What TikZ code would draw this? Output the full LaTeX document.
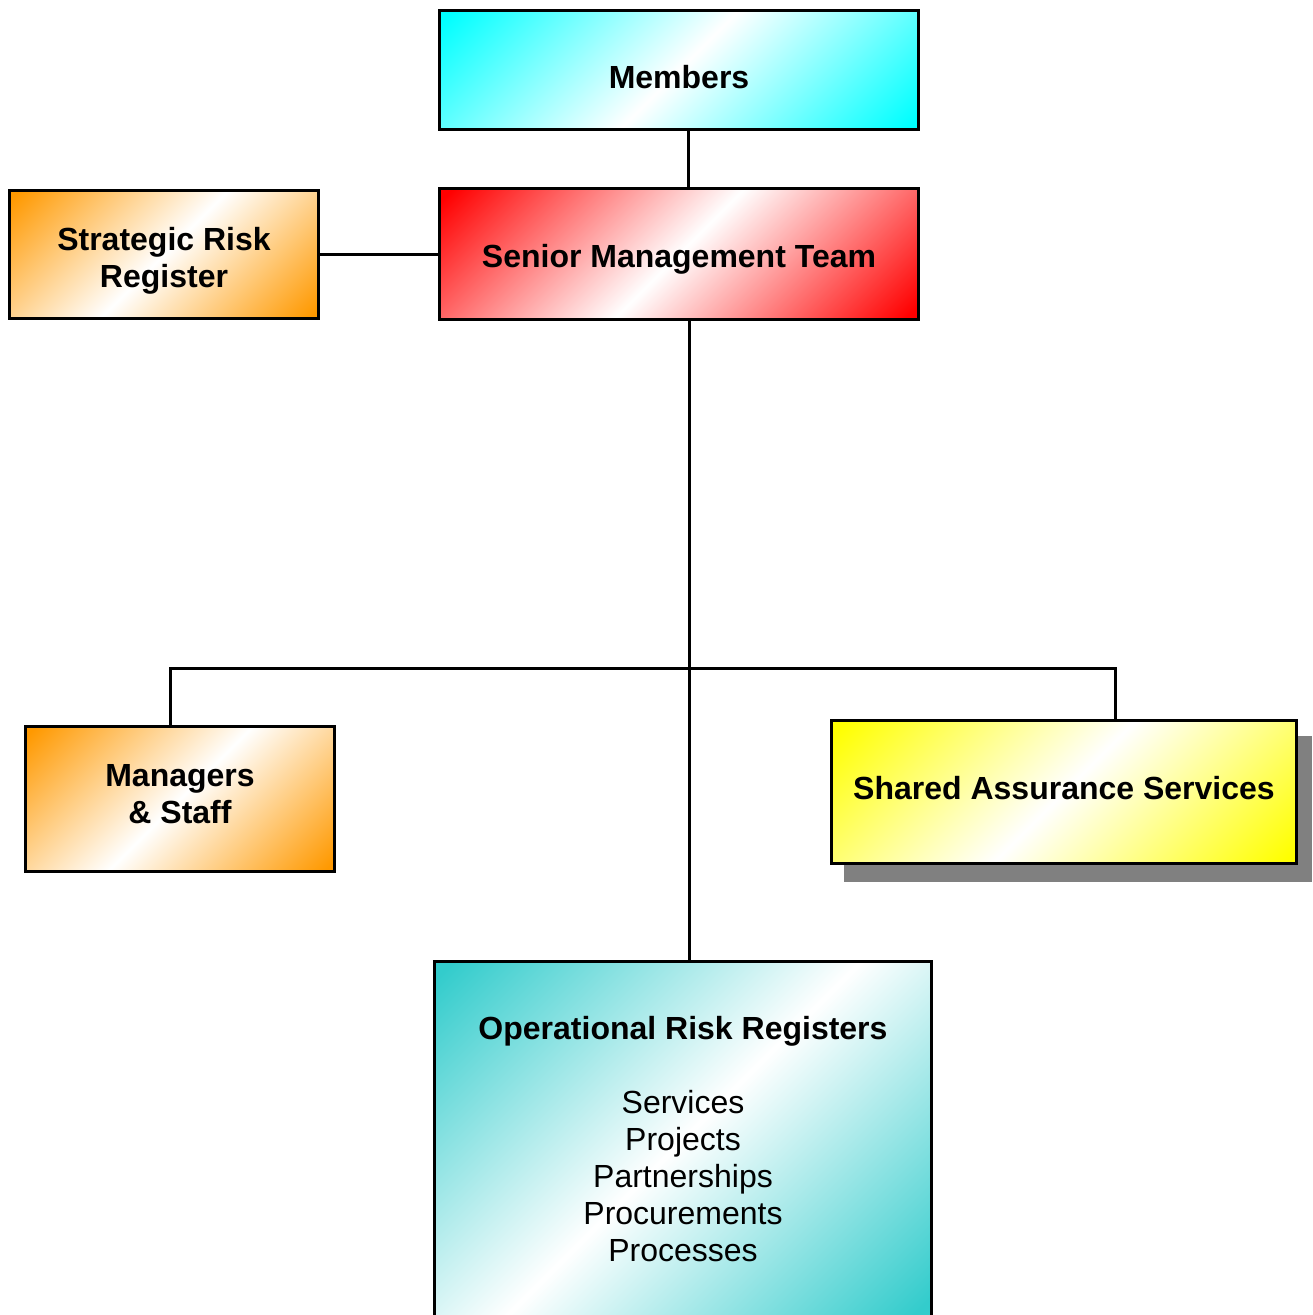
\documentclass[tikz,border=0pt]{standalone}
\usepackage{fontspec}
\setmainfont{Liberation Sans}
\usetikzlibrary{shadows}
\definecolor{orangefill}{RGB}{255,153,0}
\definecolor{tealfill}{RGB}{51,204,204}
\colorlet{sheencolor}{cyan}
\pgfdeclarehorizontalshading[sheencolor]{sheenshade}{100bp}{color(0bp)=(sheencolor); color(16bp)=(sheencolor); color(50bp)=(white); color(84bp)=(sheencolor); color(100bp)=(sheencolor)}
\begin{document}
\begin{tikzpicture}[x=0.5pt, y=-0.5pt,
  box/.style={draw, line width=1.5pt, inner sep=0pt, align=center,
    font=\fontsize{16}{18.5}\selectfont\bfseries},
  sheen/.style={/utils/exec={\colorlet{sheencolor}{#1}}, shading=sheenshade, shading angle=-45}]
\useasboundingbox (0,0) rectangle (1312,1315);
\tikzset{every path/.style={line width=1.5pt}}
%\tikzset{every node/.style={box}}
\node[box, sheen=cyan, minimum width=239.5pt, minimum height=59.75pt,
    text height=18.5pt, text depth=0pt] (members) at (679,70) {Members};
\node[box, sheen=red, minimum width=239.5pt, minimum height=65.5pt,
    text height=16.7pt, text depth=3.4pt] (smt) at (679,254) {Senior Management Team};
\node[box, sheen=orangefill, minimum width=154.5pt, minimum height=64pt,
    text height=36.2pt, text depth=3.4pt] (srr) at (164,254.5) {Strategic Risk\\Register};
\node[box, sheen=orangefill, minimum width=154.5pt, minimum height=72.5pt,
    text height=30.2pt, text depth=5.5pt] (mgr) at (180,799) {Managers\\\& Staff};
\node[box, sheen=yellow, minimum width=232.5pt, minimum height=71.5pt,
    text height=11.7pt, text depth=4pt,
    drop shadow={shadow xshift=7pt, shadow yshift=-8.5pt, fill=gray, draw=gray, line width=1.5pt, opacity=1}] (sas) at (1064,792) {Shared Assurance Services};
\node[box, sheen=tealfill, minimum width=248.5pt, minimum height=177.5pt,
    font=\fontsize{16}{18.5}\selectfont] (ops) at (683,1139)
    {\textbf{Operational Risk Registers}\\[18.5pt]Services\\Projects\\Partnerships\\Procurements\\Processes};
% connectors
\coordinate (bar) at (689,668);
\draw ([xshift=4.5pt]members.south) -- ([xshift=4.5pt]smt.north);
\draw (srr.east) -- (srr.east -| smt.west);
\draw ([xshift=5.25pt]smt.south) -- ([xshift=5.25pt]smt.south |- ops.north);
\draw ([xshift=-5pt]mgr.north) |- (bar) -| ([xshift=25.5pt]sas.north);
\end{tikzpicture}
\end{document}
